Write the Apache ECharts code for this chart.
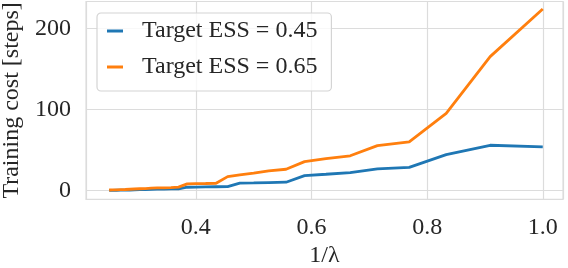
<!DOCTYPE html>
<html>
<head>
<meta charset="utf-8">
<script src="https://cdn.jsdelivr.net/npm/echarts@6/dist/echarts.min.js"></script>
<style>
html,body{margin:0;padding:0;background:#fff;}
#chart{width:568px;height:268px;}
</style>
</head>
<body>
<div id="chart"></div>
<script>
// 1/lambda values
const xValues = [0.25, 0.256, 0.263, 0.27, 0.278, 0.286, 0.294, 0.303, 0.3125, 0.323, 0.333, 0.345, 0.357, 0.37, 0.385, 0.4, 0.417, 0.435, 0.455, 0.476, 0.5, 0.526, 0.556, 0.588, 0.625, 0.667, 0.714, 0.769, 0.833, 0.909, 1.0];
const ess045 = [0.3, 0.4, 0.5, 0.6, 0.7, 0.8, 1.0, 1.2, 1.4, 1.6, 1.8, 2.0, 2.1, 2.3, 4.2, 4.4, 4.6, 4.8, 4.9, 9.3, 9.6, 10.0, 10.4, 18.5, 20.2, 22.2, 26.8, 28.7, 44.5, 56.0, 54.0];
const ess065 = [0.8, 0.9, 1.0, 1.2, 1.4, 1.7, 2.0, 2.3, 2.6, 3.0, 3.3, 3.5, 3.8, 4.4, 8.3, 8.6, 8.8, 9.1, 17.3, 19.4, 21.5, 24.5, 26.4, 35.8, 39.5, 43.0, 55.5, 60.3, 95.5, 165.4, 224.3];
const seriesNames = ['Target ESS = 0.45', 'Target ESS = 0.65'];
const xTickLabels = [0.4, 0.6, 0.8, 1.0];
const yTickLabels = [0, 100, 200];

const FONT = 'Liberation Serif';
const TXT = '#262626';
const GRIDC = '#dcdcdc';

const chart = echarts.init(document.getElementById('chart'), null, {renderer: 'canvas'});
const near = (v, arr) => arr.some(t => Math.abs(t - v) < 1e-6);

chart.setOption({
  animation: false,
  textStyle: {fontFamily: FONT},
  grid: {left: 86, right: 5, top: 1.5, bottom: 68.7, show: true, borderColor: GRIDC, borderWidth: 1.2,
         containLabel: false, outerBoundsMode: 'none'},
  legend: {
    orient: 'vertical', left: 97, top: 13,
    padding: [6, 14, 12, 10],
    itemGap: 12,
    itemWidth: 16, itemHeight: 3,
    icon: 'rect',
    backgroundColor: 'rgba(255,255,255,0.8)',
    borderColor: '#d4d4d4', borderWidth: 1.2, borderRadius: 4,
    textStyle: {fontFamily: FONT, fontSize: 24, color: TXT, padding: [0, 0, 0, 14], lineHeight: 24},
    data: seriesNames
  },
  xAxis: {
    type: 'value', min: 0.21, max: 1.035, splitNumber: 4,
    axisLine: {show: false}, axisTick: {show: false},
    splitLine: {show: true, lineStyle: {color: GRIDC, width: 1.2}},
    axisLabel: {
      margin: 16, fontSize: 24, color: TXT, fontFamily: FONT,
      showMinLabel: true, showMaxLabel: true,
      formatter: v => near(v, xTickLabels) ? v.toFixed(1) : ''
    },
    name: '1/λ', nameLocation: 'middle', nameGap: 42,
    nameTextStyle: {fontSize: 24, color: TXT, fontFamily: FONT}
  },
  yAxis: {
    type: 'value', min: -10.7, max: 233.5, splitNumber: 2,
    axisLine: {show: false}, axisTick: {show: false},
    splitLine: {show: true, lineStyle: {color: GRIDC, width: 1.2}},
    axisLabel: {
      margin: 15, fontSize: 24, color: TXT, fontFamily: FONT,
      formatter: v => near(v, yTickLabels) ? String(Math.round(v)) : ''
    },
    name: 'Training cost [steps]', nameLocation: 'middle', nameGap: 62,
    nameTextStyle: {fontSize: 24, color: TXT, fontFamily: FONT}
  },
  series: [
    {
      name: seriesNames[0], type: 'line', showSymbol: false,
      data: xValues.map((x, i) => [x, ess045[i]]),
      lineStyle: {color: '#1f77b4', width: 2.8}, itemStyle: {color: '#1f77b4'}
    },
    {
      name: seriesNames[1], type: 'line', showSymbol: false,
      data: xValues.map((x, i) => [x, ess065[i]]),
      lineStyle: {color: '#ff7f0e', width: 2.8}, itemStyle: {color: '#ff7f0e'}
    }
  ]
});
</script>
</body>
</html>
